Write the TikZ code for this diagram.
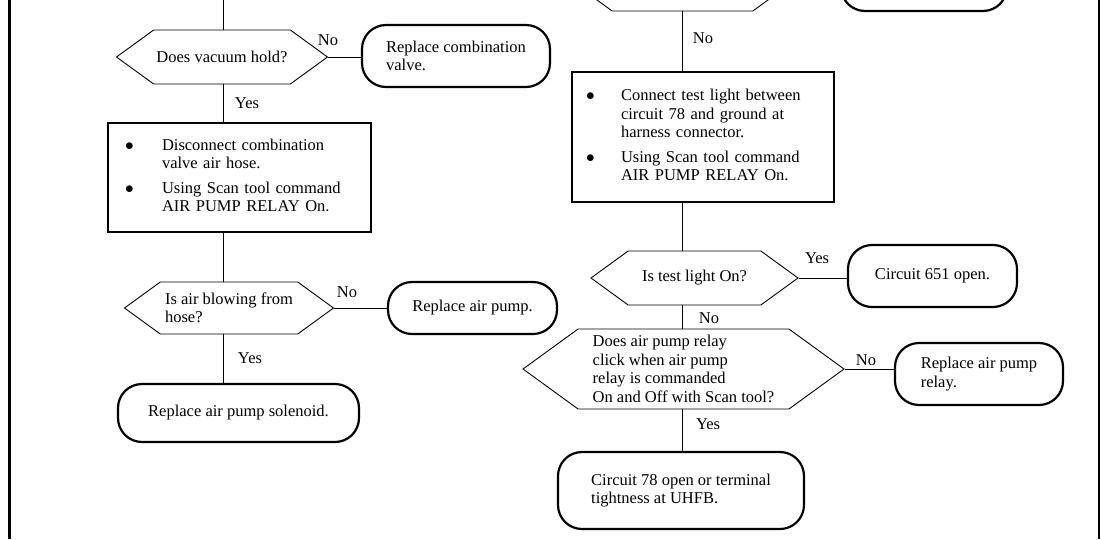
\documentclass[tikz,border=0pt]{standalone}
\usepackage{fontspec}
\setmainfont{Liberation Serif}
\usetikzlibrary{shapes.symbols}

\begin{document}
\begin{tikzpicture}[x=1pt, y=-1pt, font=\fontsize{16.5}{18.5}\selectfont, line width=0.9pt,
    hexa/.style={draw, signal, signal to=west and east, signal pointer angle=72, inner sep=2pt, align=left},
    term/.style={draw, line width=2.2pt, rounded corners=24pt, align=left, inner sep=2pt},
    chk/.style={draw, line width=1.1pt, align=left},
    lbl/.style={inner sep=1pt}]

    \clip (0,0) rectangle (1101,539);

    % Axes of the two columns
    \coordinate (axisL) at (223,0);
    \coordinate (axisR) at (682,0);

    % Left column
    \node[hexa, minimum width=211pt, minimum height=54pt] (vac) at (222,57) {Does vacuum hold?};
    \node[term, minimum width=188pt, minimum height=62pt] (combo) at (456,56) {Replace combination\\valve.};

    \node[chk, minimum height=109pt, text width=229pt, inner xsep=17pt] (hose) at (239.5,177.5) {%
        \begin{tabular}{@{}p{37pt}@{}l@{}}
        $\bullet$ & Disconnect combination\\
                  & valve air hose.\\[6pt]
        $\bullet$ & Using Scan tool command\\
                  & AIR PUMP RELAY On.
        \end{tabular}};

    \node[hexa, minimum width=209pt, minimum height=52pt] (blow) at (229,308) {Is air blowing from\\hose?};
    \node[term, minimum width=169pt, minimum height=52pt] (pump) at (472.5,308) {Replace air pump.};
    \node[term, minimum width=241pt, minimum height=58pt] (sol) at (238.5,413) {Replace air pump solenoid.};

    % Right column (top shapes cut by the page)
    \node[hexa, minimum width=215pt, minimum height=54pt] (top) at (682.5,-16) {};
    \node[term, minimum width=166pt, minimum height=62pt] (topend) at (924,-20) {};

    \node[chk, minimum height=130pt, text width=234pt, inner xsep=14pt] (light) at (703,137) {%
        \begin{tabular}{@{}p{35pt}@{}l@{}}
        $\bullet$ & Connect test light between\\
                  & circuit 78 and ground at\\
                  & harness connector.\\[6pt]
        $\bullet$ & Using Scan tool command\\
                  & AIR PUMP RELAY On.
        \end{tabular}};

    \node[hexa, minimum width=207pt, minimum height=54pt] (ison) at (694.5,278) {Is test light On?};
    \node[term, minimum width=169pt, minimum height=62pt] (c651) at (932.5,276) {Circuit 651 open.};

    \node[hexa, minimum width=321pt, minimum height=80pt] (click) at (683.5,369) {Does air pump relay\\click when air pump\\relay is commanded\\On and Off with Scan tool?};
    \node[term, minimum width=168pt, minimum height=62pt] (relay) at (979,374) {Replace air pump\\relay.};
    \node[term, minimum width=246pt, minimum height=77pt] (c78) at (681,490.5) {Circuit 78 open or terminal\\tightness at UHFB.};

    % Connectors
    \draw (axisL) -- (axisL |- vac.north);
    \draw (vac.east) -- (vac.east -| combo.west);
    \draw (vac.south -| axisL) -- (hose.north -| axisL);
    \draw (hose.south -| axisL) -- (blow.north -| axisL);
    \draw (blow.east) -- (blow.east -| pump.west);
    \draw (blow.south -| axisL) -- (sol.north -| axisL);

    \draw (top.south -| axisR) -- (light.north -| axisR);
    \draw (light.south -| axisR) -- (ison.north -| axisR);
    \draw (ison.east) -- (ison.east -| c651.west);
    \draw (ison.south -| axisR) -- (click.north -| axisR);
    \draw (click.east) -- (click.east -| relay.west);
    \draw (click.south -| axisR) -- (c78.north -| axisR);

    % Labels
    \node[lbl] (no1) at (328,40) {No};
    \node[lbl] (yes1) at (247,103) {Yes};
    \node[lbl] (no2) at (347,292) {No};
    \node[lbl] (yes2) at (250,358) {Yes};
    \node[lbl] (no3) at (703,38) {No};
    \node[lbl] (yes3) at (817,258) {Yes};
    \node[lbl] (no4) at (709,318) {No};
    \node[lbl] (no5) at (866,360) {No};
    \node[lbl] (yes4) at (708,424) {Yes};

    % Page frame
    \draw[line width=3pt] (9.5,0) -- (9.5,539);
    \draw[line width=2.5pt] (1099,0) -- (1099,539);

\end{tikzpicture}
\end{document}
